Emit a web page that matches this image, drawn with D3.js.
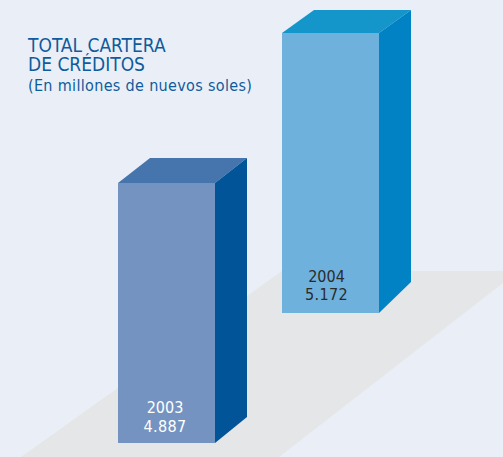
<!DOCTYPE html>
<html>
<head>
<meta charset="utf-8">
<script src="https://cdn.jsdelivr.net/npm/d3@7"></script>
<style>
  html, body { margin: 0; padding: 0; background: #eaeff7; overflow: hidden; }
  svg { display: block; }
  text { font-family: "DejaVu Sans Condensed", "DejaVu Sans", sans-serif; font-stretch: condensed; }
</style>
</head>
<body>
<div id="vis"></div>
<script>
// Data
const YEARS = ["2003", "2004"];
const VALUES = [4887, 5172];
const VALUE_LABELS = ["4.887", "5.172"];
const TITLE_LINES = ["TOTAL CARTERA", "DE CRÉDITOS"];
const SUBTITLE = "(En millones de nuevos soles)";

// Constants for frame and layout
const FRAME_WIDTH = 503;
const FRAME_HEIGHT = 457;
const BASELINES = {"2003": 443, "2004": 313};
const DEPTHS = {"2003": {x: 32, top: 25, bottom: 26}, "2004": {x: 32, top: 23, bottom: 31}};
const LABEL_OFFSETS = {"2003": {x: -1.5, year: 30.5, value: 11.5}, "2004": {x: -4, year: 31.5, value: 13}};
const FRONT_COLORS = {"2003": "#7493c1", "2004": "#6fb1dd"};
const SIDE_COLORS = {"2003": "#005497", "2004": "#0082c4"};
const TOP_COLORS = {"2003": "#4674ad", "2004": "#1496cb"};
const LABEL_COLORS = {"2003": "#ffffff", "2004": "#2b2b2b"};

const FRAME = d3.select("#vis")
                .append("svg")
                  .attr("width", FRAME_WIDTH)
                  .attr("height", FRAME_HEIGHT);

// Floor shadow behind the bars
FRAME.append("path")
     .attr("d", "M21,457L282,271L503,271L503,283L279,457Z")
     .attr("fill", "#e5e6e8");

// Scales, the value axis does not start at zero in the original
const X_SCALE = d3.scaleBand()
                  .domain(YEARS)
                  .range([118, 379])
                  .paddingInner(0.4085);

const HEIGHT_SCALE = d3.scaleLinear()
                       .domain([1182, 5172])
                       .range([0, 280]);

const BW = X_SCALE.bandwidth();

const BARS = FRAME.selectAll(".bar")
                  .data(YEARS.map((y, i) => ({year: y, value: VALUES[i], label: VALUE_LABELS[i]})))
                  .enter()
                  .append("g")
                    .attr("class", "bar");

// Top face
BARS.append("path")
    .attr("fill", (d) => TOP_COLORS[d.year])
    .attr("d", (d) => {
      const x = X_SCALE(d.year), y = BASELINES[d.year] - HEIGHT_SCALE(d.value), dp = DEPTHS[d.year];
      return `M${x},${y}L${x + dp.x},${y - dp.top}L${x + BW + dp.x},${y - dp.top}L${x + BW},${y}Z`;
    });

// Side face
BARS.append("path")
    .attr("fill", (d) => SIDE_COLORS[d.year])
    .attr("d", (d) => {
      const x = X_SCALE(d.year) + BW, b = BASELINES[d.year], y = b - HEIGHT_SCALE(d.value), dp = DEPTHS[d.year];
      return `M${x},${y}L${x + dp.x},${y - dp.top}L${x + dp.x},${b - dp.bottom}L${x},${b}Z`;
    });

// Front face
BARS.append("rect")
    .attr("fill", (d) => FRONT_COLORS[d.year])
    .attr("x", (d) => X_SCALE(d.year))
    .attr("y", (d) => BASELINES[d.year] - HEIGHT_SCALE(d.value))
    .attr("width", BW)
    .attr("height", (d) => HEIGHT_SCALE(d.value));

// Year and value labels
BARS.append("text")
    .attr("x", (d) => X_SCALE(d.year) + BW / 2 + LABEL_OFFSETS[d.year].x)
    .attr("y", (d) => BASELINES[d.year] - LABEL_OFFSETS[d.year].year)
    .attr("text-anchor", "middle")
    .attr("font-size", "16px")
    .attr("fill", (d) => LABEL_COLORS[d.year])
    .text((d) => d.year);

BARS.append("text")
    .attr("x", (d) => X_SCALE(d.year) + BW / 2 + LABEL_OFFSETS[d.year].x)
    .attr("y", (d) => BASELINES[d.year] - LABEL_OFFSETS[d.year].value)
    .attr("text-anchor", "middle")
    .attr("font-size", "16px")
    .attr("letter-spacing", "0.4px")
    .attr("fill", (d) => LABEL_COLORS[d.year])
    .text((d) => d.label);

// Title
FRAME.selectAll(".title")
     .data(TITLE_LINES)
     .enter()
     .append("text")
       .attr("class", "title")
       .attr("x", 28)
       .attr("y", (d, i) => 52 + i * 19)
       .attr("font-size", "19px")
       .attr("fill", "#0f5b9c")
       .text((d) => d);

FRAME.append("text")
     .attr("x", 28)
     .attr("y", 91)
     .attr("font-size", "16px")
     .attr("letter-spacing", "0.33px")
     .attr("fill", "#0f5b9c")
     .text(SUBTITLE);
</script>
</body>
</html>
